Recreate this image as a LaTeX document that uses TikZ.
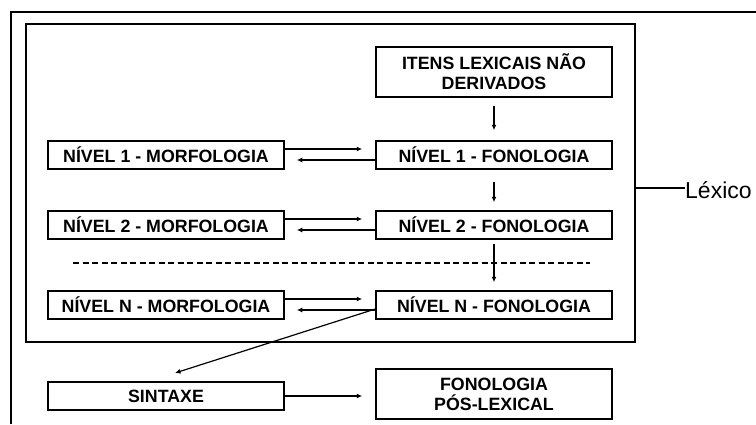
\documentclass[tikz,border=0pt]{standalone}
\usepackage{fontspec}
\setmainfont{Liberation Sans}
\usetikzlibrary{arrows.meta}
\begin{document}
\begin{tikzpicture}[x=1pt,y=-1pt,
  box/.style={draw,line width=1.5pt,rectangle,minimum width=236pt,inner sep=0pt,
    font=\bfseries\fontsize{17.8}{20}\selectfont,align=center},
  single/.style={box,minimum height=28pt},
  double/.style={box,minimum height=50pt},
  arr/.style={line width=1.2pt,-{Latex[length=5.5pt,width=5pt]}}]
\useasboundingbox (0,0) rectangle (756,424);
\draw[line width=1.8pt] (11,424) -- (11,12) -- (756,12);
\draw[line width=1.5pt] (26,24) rectangle (635,342);
\coordinate (lexline) at (635,188);
\node[anchor=west,inner sep=0pt,font=\fontsize{23}{26}\selectfont] (lex) at (685,190) {Léxico};
\draw[line width=1.3pt] (lexline) -- (lex.west |- lexline);
\node[double] (itens) at (494,72) {ITENS LEXICAIS NÃO\\DERIVADOS};
\node[single] (f1) at (494,155) {NÍVEL 1 - FONOLOGIA};
\node[single] (m1) at (166,155) {NÍVEL 1 - MORFOLOGIA};
\node[single] (f2) at (494,225) {NÍVEL 2 - FONOLOGIA};
\node[single] (m2) at (166,225) {NÍVEL 2 - MORFOLOGIA};
\node[single] (fN) at (494,305) {NÍVEL N - FONOLOGIA};
\node[single] (mN) at (166,305) {NÍVEL N - MORFOLOGIA};
\node[single] (sint) at (166,396) {SINTAXE};
\node[double] (pos) at (494,394) {FONOLOGIA\\PÓS-LEXICAL};
\draw[line width=1.1pt,dash pattern=on 6pt off 3.5pt] (73,263) -- (590,263);
\draw[arr,shorten <=8pt,shorten >=10pt] (itens) -- (f1);
\draw[arr,shorten <=12pt,shorten >=8pt] (f1) -- (f2);
\draw[arr,shorten <=4pt,shorten >=8pt] (f2) -- (fN);
\foreach \m/\f in {m1/f1,m2/f2,mN/fN}{
  \draw[arr] ([yshift=6pt]\m.east) -- ([xshift=-13pt,yshift=6pt]\f.west);
  \draw[arr] ([yshift=-5pt]\f.west) -- ([xshift=12pt,yshift=-5pt]\m.east);
}
\coordinate (diagend) at (175,373);
\draw[arr] ([yshift=-4pt]fN.west) -- (diagend);
\draw[arr,shorten >=13pt] (sint.east) -- (sint.east -| pos.west);
\end{tikzpicture}
\end{document}
